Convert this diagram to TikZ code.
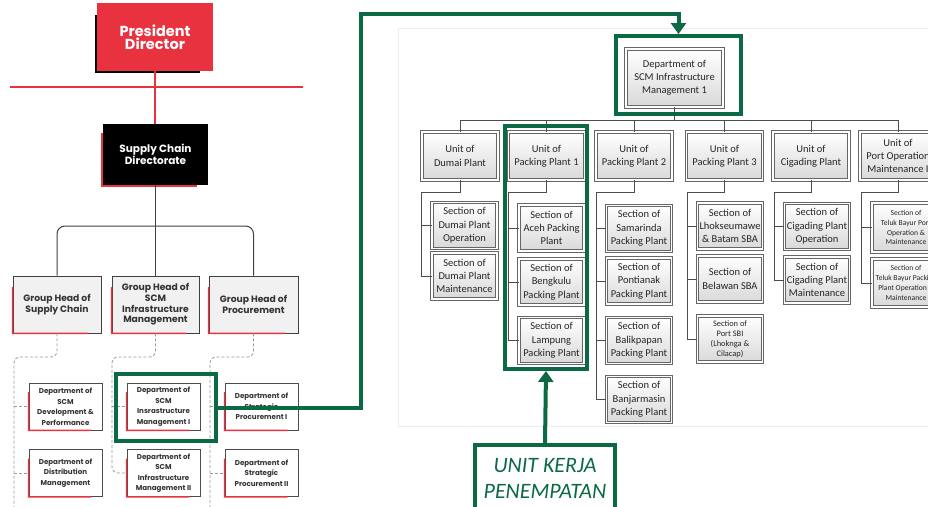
\documentclass[tikz,border=0pt]{standalone}
\usepackage{fontspec}
\setmainfont{Carlito}
\newfontfamily\popfont{Poppins}
\usetikzlibrary{positioning,arrows.meta,calc}
\definecolor{cRed}{HTML}{E8323F}
\definecolor{cGreen}{HTML}{0B6A44}
\definecolor{cHeadFill}{HTML}{F1F1F1}
\tikzset{
  topBox/.style={text=white, align=center, inner sep=0pt,
                 font=\popfont\bfseries\fontsize{14.5}{13}\selectfont},
  headBox/.style={draw=black!75, line width=0.8pt, fill=cHeadFill, align=center,
                  inner sep=0pt, minimum height=57pt, text=black!80,
                  font=\popfont\bfseries\fontsize{9.2}{10.7}\selectfont},
  deptBox/.style={draw=black!70, line width=0.7pt, fill=white, align=center,
                  inner sep=0pt, minimum width=73pt, minimum height=47pt, text=black!80,
                  font=\popfont\bfseries\fontsize{7.1}{10.5}\selectfont},
  redEdge/.style={draw=cRed, line width=1.6pt},
  treeLink/.style={draw=black!75, line width=1pt, rounded corners=8pt},
  dashLink/.style={draw=black!40, line width=0.8pt, rounded corners=6pt,
                   dash pattern=on 3pt off 2pt},
  unitBox/.style={preaction={top color=white, bottom color=black!15},
                  draw=black!60, double=white, double distance=1.3pt, line width=0.9pt,
                  align=center, inner sep=0pt,
                  minimum width=76pt, minimum height=48pt, text=black!85,
                  font=\fontsize{10.5}{13.3}\selectfont},
  secBox/.style={unitBox, minimum width=65pt, minimum height=46pt},
  smallText/.style={font=\fontsize{7.6}{9.8}\selectfont},
  orgLink/.style={draw=black!70, line width=1pt},
  gBox/.style={draw=cGreen, line width=4pt, inner sep=0pt},
  gArrow/.style={draw=cGreen, line width=4pt, -{Triangle[width=15pt,length=11pt]}},
}

\begin{document}
\begin{tikzpicture}[x=1pt, y=-1pt]
\useasboundingbox (0,0) rectangle (928,506);
\clip (0,0) rectangle (928,506);
\fill[white] (0,0) rectangle (928,506);

% ========== LEFT: company chart ==========
\fill[black] (95,15) rectangle (200,73);
\node[topBox, fill=cRed, minimum width=116pt, minimum height=68pt] (pd) at (155,37)
  {President\\Director};
\coordinate (redL) at (10,87);
\coordinate (redR) at (303,87);
\draw[cRed, line width=1.2pt] (redL) -- (redR);

\fill[cRed] (101,133) rectangle (197,187);
\node[topBox, fill=black, minimum width=105pt, minimum height=61pt,
      font=\popfont\bfseries\fontsize{10.5}{11.7}\selectfont] (scd) at (155.5,154.5)
  {Supply Chain\\Directorate};
\draw[cRed, line width=1.2pt] (pd.south) -- (pd.south |- scd.north);

% group heads
\node[headBox, minimum width=88pt] (gh1) at (57,304.5) {Group Head of\\Supply Chain};
\node[headBox, minimum width=87pt] (gh2) at (155.5,304.5)
  {Group Head of\\SCM\\Infrastructure\\Management};
\node[headBox, minimum width=89pt] (gh3) at (253.5,304.5) {Group Head of\\Procurement};

\coordinate (bar) at (0,226);
\draw[treeLink] (scd.south) -- (gh2.north);
\draw[treeLink] (gh1.north) -- (gh1.north |- bar) -- (gh3.north |- bar) -- (gh3.north);

% departments
\node[deptBox] (dDev)  at (65.5,406.5)  {Department of\\SCM\\Development \&\\Performance};
\node[deptBox] (dDist) at (65.5,473)    {Department of\\Distribution\\Management};
\node[deptBox] (dSCM1) at (163.5,406.5) {Department of\\SCM\\Insrastructure\\Management I};
\node[deptBox] (dSCM2) at (163.5,473)   {Department of\\SCM\\Infrastructure\\Management II};
\node[deptBox] (dStr1) at (261.5,406.5) {Department of\\Strategic\\Procurement I};
\node[deptBox] (dStr2) at (261.5,473)   {Department of\\Strategic\\Procurement II};

\foreach \n in {gh1,gh2,gh3,dDev,dDist,dSCM1,dSCM2,dStr1,dStr2}
  \draw[redEdge] ($(\n.north west)!0.2!(\n.south west)$) -- (\n.south west)
                 -- ($(\n.south west)!0.85!(\n.south east)$);

\coordinate (dl1) at (14,357);
\coordinate (dl2) at (112,357);
\coordinate (dl3) at (210,357);
\coordinate (dl1b) at (14,510);
\coordinate (dl3b) at (210,510);
\draw[dashLink] (gh1.south) |- (dl1) -- (dl1b);
\draw[dashLink] (gh2.south) |- (dl2) |- (dSCM2.west);
\draw[dashLink] (gh3.south) |- (dl3) -- (dl3b);
\draw[dashLink] (dDev.west -| dl1) -- (dDev.west);
\draw[dashLink] (dDist.west -| dl1) -- (dDist.west);
\draw[dashLink] (dSCM1.west -| dl2) -- (dSCM1.west);
\draw[dashLink] (dStr1.west -| dl3) -- (dStr1.west);
\draw[dashLink] (dStr2.west -| dl3) -- (dStr2.west);

% ========== RIGHT: department chart ==========
\draw[black!7] (398,28) rectangle (940,426);

\node[unitBox, minimum width=97pt, minimum height=58pt] (d1) at (674.5,78)
  {Department of\\SCM Infrastructure\\Management 1};

\node[unitBox] (uDum)  at (460,156)   {Unit of\\Dumai Plant};
\node[unitBox] (uPP1)  at (546.5,156) {Unit of\\Packing Plant 1};
\node[unitBox] (uPP2)  at (634,156)   {Unit of\\Packing Plant 2};
\node[unitBox] (uPP3)  at (724.5,156) {Unit of\\Packing Plant 3};
\node[unitBox] (uCig)  at (811,156)   {Unit of\\Cigading Plant};
\node[unitBox] (uPort) at (898,156)   {Unit of\\Port Operation\\Maintenance I};

\coordinate (barL) at (460,120);
\coordinate (barR) at (898,120);
\draw[orgLink] (barL) -- (barR);
\draw[orgLink] (d1.south) -- (d1.south |- barL);
\foreach \u in {uDum,uPP1,uPP2,uPP3,uCig,uPort}
  \draw[orgLink] (\u.north) -- (\u.north |- barL);

% sections
\node[secBox] (sDum1) at (464.5,225.5) {Section of\\Dumai Plant\\Operation};
\node[secBox] (sDum2) at (464.5,276)   {Section of\\Dumai Plant\\Maintenance};
\node[secBox] (sAceh) at (551.5,228)   {Section of\\Aceh Packing\\Plant};
\node[secBox] (sBeng) at (551.5,282)   {Section of\\Bengkulu\\Packing Plant};
\node[secBox] (sLamp) at (551.5,340.5) {Section of\\Lampung\\Packing Plant};
\node[secBox] (sSam)  at (639,228.5)   {Section of\\Samarinda\\Packing Plant};
\node[secBox] (sPon)  at (639,281)     {Section of\\Pontianak\\Packing Plant};
\node[secBox] (sBal)  at (639,340.5)   {Section of\\Balikpapan\\Packing Plant};
\node[secBox] (sBan)  at (639,399.5)   {Section of\\Banjarmasin\\Packing Plant};
\node[secBox] (sLho)  at (730,226)     {Section of\\Lhokseumawe\\\& Batam SBA};
\node[secBox] (sBel)  at (730,279)     {Section of\\Belawan SBA};
\node[secBox, font=\fontsize{8.4}{10}\selectfont] (sSBI) at (730,339)
  {Section of\\Port SBI\\(Lhoknga \&\\Cilacap)};
\node[secBox] (sCigO) at (817,226.5)   {Section of\\Cigading Plant\\Operation};
\node[secBox] (sCigM) at (817,280)     {Section of\\Cigading Plant\\Maintenance};
\node[secBox, smallText, minimum width=68pt, minimum height=49pt] (sTb1) at (906,227.5)
  {Section of\\Teluk Bayur Port\\Operation \&\\Maintenance};
\node[secBox, smallText, minimum width=68pt, minimum height=48pt] (sTb2) at (906,283)
  {Section of\\Teluk Bayur Packing\\Plant Operation \&\\Maintenance};

% unit -> section links
\foreach \u/\first/\last in {uDum/sDum1/sDum2, uPP1/sAceh/sLamp, uPP2/sSam/sBan,
                             uPP3/sLho/sSBI, uCig/sCigO/sCigM, uPort/sTb1/sTb2}
  \draw[orgLink] (\u.south) -- ++(0,12) -| ([xshift=-10pt]\last.west) -- (\last.west);
\foreach \s in {sDum1,sAceh,sBeng,sSam,sPon,sBal,sLho,sBel,sCigO,sTb1}
  \draw[orgLink] ([xshift=-10pt]\s.west) -- (\s.west);

% ========== GREEN HIGHLIGHTS ==========
\node[gBox, minimum width=100pt, minimum height=67pt] (gL) at (166,407.5) {};
\node[gBox, minimum width=125pt, minimum height=78pt] (gR) at (678.5,75) {};
\node[gBox, minimum width=82pt, minimum height=243pt] (gP1) at (546,247.5) {};
\node[gBox, fill=white, minimum width=140pt, minimum height=66pt, text=cGreen, align=center,
      font=\itshape\fontsize{22}{26}\selectfont] (uk) at (545,478)
  {UNIT KERJA\\PENEMPATAN};

\coordinate (turn) at (361,14);
\draw[gArrow] (gL.east) -| (turn) -| (gR.north);
\draw[gArrow] (uk.north) -- (gP1.south);

\end{tikzpicture}
\end{document}
